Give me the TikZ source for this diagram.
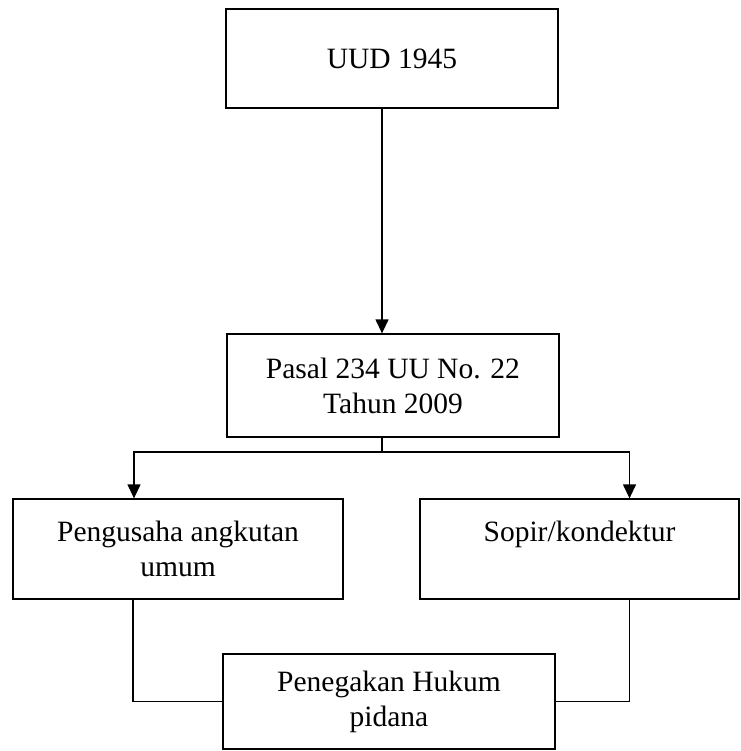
\documentclass[tikz,border=0pt]{standalone}
\usepackage{fontspec}
\setmainfont{Liberation Serif}
\usetikzlibrary{arrows.meta}

\begin{document}
\begin{tikzpicture}[x=1pt, y=-1pt,
    kotak/.style={draw, line width=1.3pt, inner sep=0pt, align=center,
                  font=\fontsize{29.5}{35}\selectfont},
    panah/.style={-{Triangle[width=13pt,length=14pt]}, line width=1.3pt},
    garis/.style={line width=1.3pt}]
    % Diagram: legal basis flow, UUD 1945 down to Penegakan Hukum pidana.
    % Coordinates: (x, y) in px, y grows downwards
    %   uud at (392,58.5), pasal at (393,385.5)
    %   pengusaha at (178,549), sopir at (579.5,549)
    %   penegakan at (389,701.5), branch line at y=452
    \useasboundingbox (0,0) rectangle (740,751);
    \node[kotak, minimum width=332pt, minimum height=99pt] (uud) at (392,58.5)
          {UUD 1945};
    \node[kotak, minimum width=332pt, minimum height=103pt] (pasal) at (393,385.5)
          {Pasal 234 UU No. 22\\ Tahun 2009};
    \node[kotak, minimum width=330pt, minimum height=100pt] (pengusaha) at (178,549)
          {Pengusaha angkutan\\ umum};
    \node[kotak, minimum width=319pt, minimum height=100pt] (sopir) at (579.5,549)
          {Sopir/kondektur\\ \mbox{}};
    \node[kotak, minimum width=332pt, minimum height=95pt] (penegakan) at (389,701.5)
          {Penegakan Hukum\\ pidana};
    \coordinate (cabang) at (382,452);
    \draw[panah] ([xshift=-10pt]uud.south) -- ([xshift=-11pt]pasal.north);
    \draw[garis] ([xshift=-11pt]pasal.south) -- (cabang);
    \draw[panah] (cabang) -| ([xshift=-44pt]pengusaha.north);
    \draw[panah] (cabang) -| ([xshift=50pt]sopir.north);
    \draw[garis] ([xshift=-45pt]pengusaha.south) |- (penegakan.west);
    \draw[garis] ([xshift=50pt]sopir.south) |- (penegakan.east);
\end{tikzpicture}
\end{document}
